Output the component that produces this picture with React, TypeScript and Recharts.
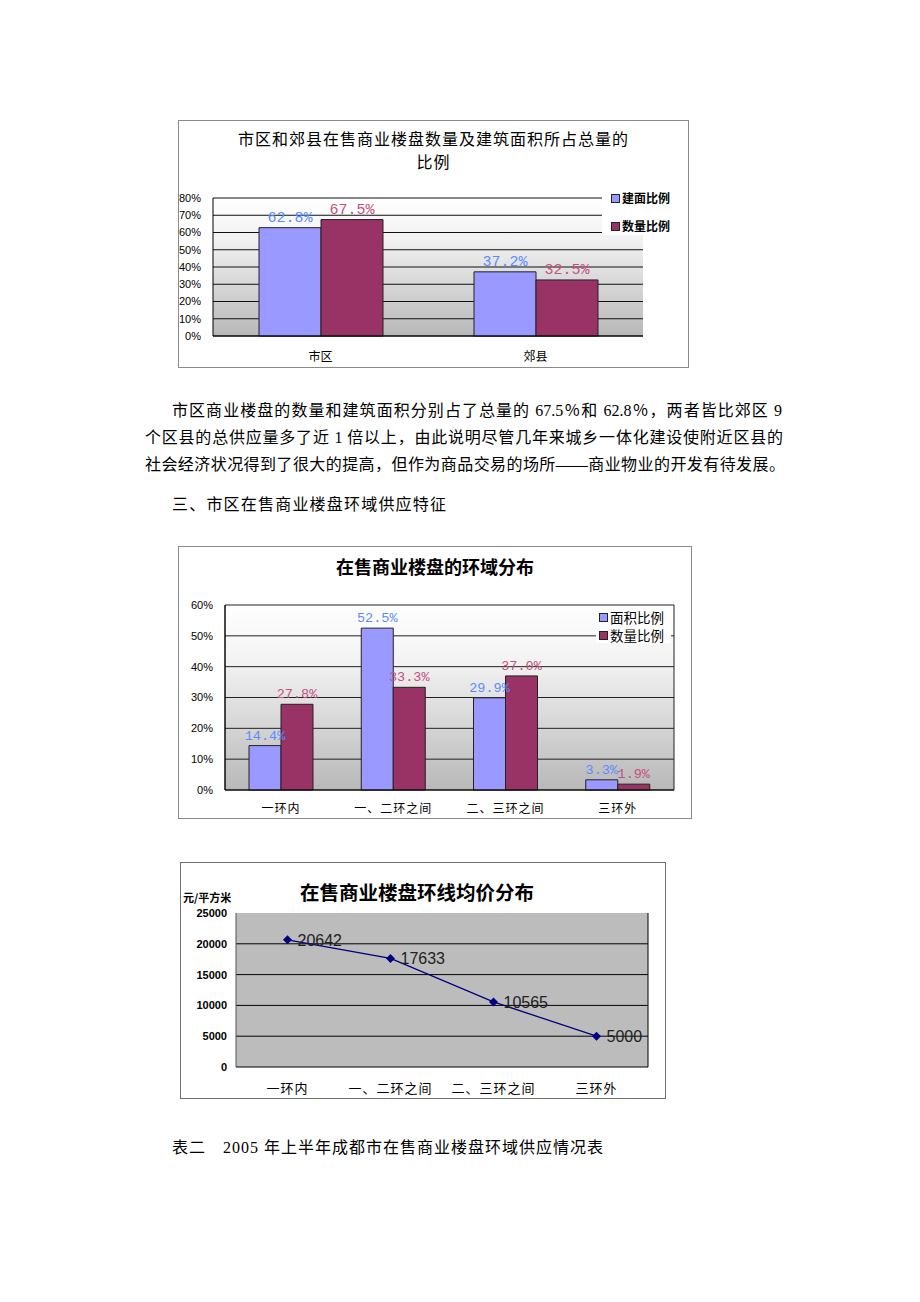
import React from 'react';
import {
  BarChart, Bar, XAxis, YAxis, CartesianGrid, LabelList, Legend, ComposedChart, Line,
} from 'recharts';

// ---- Chart 1 data ----
const c1Categories = ['市区', '郊县'];
const c1Area = [62.8, 37.2];
const c1Count = [67.5, 32.5];
const c1Ticks = [0, 10, 20, 30, 40, 50, 60, 70, 80];
const c1Series = ['建面比例', '数量比例'];

// ---- Chart 2 data ----
const c2Categories = ['一环内', '一、二环之间', '二、三环之间', '三环外'];
const c2Area = [14.4, 52.5, 29.9, 3.3];
const c2Count = [27.8, 33.3, 37.0, 1.9];
const c2Ticks = [0, 10, 20, 30, 40, 50, 60];
const c2Series = ['面积比例', '数量比例'];

// ---- Chart 3 data ----
const c3Categories = ['一环内', '一、二环之间', '二、三环之间', '三环外'];
const c3Price = [20642, 17633, 10565, 5000];
const c3Ticks = [0, 5000, 10000, 15000, 20000, 25000];
const c3GridValues = [5000, 10000, 15000, 20000];

const BLUE = '#9999ff';
const RED = '#993366';
const BLUE_LABEL = '#5b8cff';
const RED_LABEL = '#c4507f';

const c1Data = c1Categories.map((name, i) => ({ name, area: c1Area[i], count: c1Count[i] }));
const c2Data = c2Categories.map((name, i) => ({ name, area: c2Area[i], count: c2Count[i] }));
const c3Data = c3Categories.map((name, i) => ({ name, price: c3Price[i] }));

const CJK = "'Noto Sans CJK SC', 'Liberation Sans', sans-serif";
const DOC = "'Liberation Serif', 'Noto Sans CJK SC', serif";
const MONO = "'Liberation Mono', 'DejaVu Sans Mono', monospace";

const pct = (v: any) => `${Number(v).toFixed(1)}%`;

function makeLegend(names: string[], opts: { fontSize: number; iconLeft: number; textLeft: number; rows: number[]; weight: number }) {
  const colors = [BLUE, RED];
  return () => (
    <div style={{ position: 'relative', width: '100%', height: '100%', background: '#fff', fontFamily: CJK }}>
      {names.map((n, i) => (
        <div key={n} style={{ position: 'absolute', left: 0, top: opts.rows[i] - 10, height: 20, width: '100%' }}>
          <span style={{ position: 'absolute', left: opts.iconLeft, top: 6, width: 7, height: 7, background: colors[i], border: '1px solid #222' }} />
          <span style={{ position: 'absolute', left: opts.textLeft, top: 0, lineHeight: '20px', fontSize: opts.fontSize, fontWeight: opts.weight, color: '#000', whiteSpace: 'nowrap' }}>{n}</span>
        </div>
      ))}
    </div>
  );
}

function Chart1() {
  const W = 509, H = 246;
  const titleStyle: React.CSSProperties = { position: 'absolute', left: 0, width: '100%', textAlign: 'center', fontFamily: CJK, fontSize: 16, letterSpacing: 1, lineHeight: '22px', color: '#000' };
  return (
    <div style={{ position: 'absolute', left: 178, top: 120, width: 511, height: 248, border: '1px solid #8a8a8a', boxSizing: 'border-box', background: '#fff' }}>
      <div style={{ ...titleStyle, top: 6 }}>市区和郊县在售商业楼盘数量及建筑面积所占总量的</div>
      <div style={{ ...titleStyle, top: 29 }}>比例</div>
      <BarChart width={W} height={H} data={c1Data} margin={{ top: 77, right: 45, bottom: 0, left: 0 }} barGap={0} barSize={62}>
        <defs>
          <linearGradient id="g1" x1="0" y1="0" x2="0" y2="1">
            <stop offset="0%" stopColor="#ffffff" />
            <stop offset="30%" stopColor="#f2f2f2" />
            <stop offset="100%" stopColor="#b8b8b8" />
          </linearGradient>
        </defs>
        <CartesianGrid fill="url(#g1)" vertical={false} stroke="#111" strokeWidth={1} />
        <XAxis dataKey="name" height={31} axisLine={{ stroke: '#000' }} tickLine={false} tickSize={0} tickMargin={16}
          tick={{ fontSize: 12, fill: '#000', fontFamily: CJK }} />
        <YAxis width={34} domain={[0, 80]} ticks={c1Ticks} interval={0} tickFormatter={(v) => `${v}%`}
          axisLine={{ stroke: '#000' }} tickLine={false} tickSize={0} tickMargin={12}
          tick={{ fontSize: 11, fill: '#000', fontFamily: "'Liberation Sans', sans-serif" }} />
        <Legend layout="vertical" align="center" verticalAlign="middle"
          wrapperStyle={{ left: 423, top: 66, width: 86, height: 48 }}
          content={makeLegend(c1Series, { fontSize: 12, iconLeft: 9, textLeft: 20, rows: [11, 39], weight: 700 })} />
        <Bar dataKey="area" name={c1Series[0]} fill={BLUE} stroke="#222" strokeWidth={1} isAnimationActive={false}>
          <LabelList dataKey="area" position="top" offset={6} formatter={pct} fill={BLUE_LABEL} fontSize={15} fontFamily={MONO} />
        </Bar>
        <Bar dataKey="count" name={c1Series[1]} fill={RED} stroke="#222" strokeWidth={1} isAnimationActive={false}>
          <LabelList dataKey="count" position="top" offset={6} formatter={pct} fill={RED_LABEL} fontSize={15} fontFamily={MONO} />
        </Bar>
      </BarChart>
    </div>
  );
}

function Chart2() {
  const W = 512, H = 271;
  return (
    <div style={{ position: 'absolute', left: 178, top: 546, width: 514, height: 273, border: '1px solid #8a8a8a', boxSizing: 'border-box', background: '#fff' }}>
      <div style={{ position: 'absolute', left: 0, top: 7, width: '100%', textAlign: 'center', fontFamily: CJK, fontSize: 18, fontWeight: 700, lineHeight: '24px', color: '#000' }}>
        在售商业楼盘的环域分布
      </div>
      <BarChart width={W} height={H} data={c2Data} margin={{ top: 58, right: 17, bottom: 0, left: 0 }} barGap={0} barSize={32}>
        <defs>
          <linearGradient id="g2" x1="0" y1="0" x2="0" y2="1">
            <stop offset="0%" stopColor="#ffffff" />
            <stop offset="30%" stopColor="#f3f3f3" />
            <stop offset="100%" stopColor="#b8b8b8" />
          </linearGradient>
        </defs>
        <CartesianGrid fill="url(#g2)" stroke="#222" strokeWidth={1}
          verticalCoordinatesGenerator={(p: any) => [p.offset.left, p.offset.left + p.offset.width]} />
        <XAxis dataKey="name" height={28} axisLine={{ stroke: '#000' }} tickLine={false} tickSize={0} tickMargin={14}
          tick={{ fontSize: 12, fill: '#000', fontFamily: CJK, letterSpacing: 1 }} />
        <YAxis width={46} domain={[0, 60]} ticks={c2Ticks} interval={0} tickFormatter={(v) => `${v}%`}
          axisLine={{ stroke: '#000' }} tickLine={false} tickSize={0} tickMargin={12}
          tick={{ fontSize: 11, fill: '#000', fontFamily: "'Liberation Sans', sans-serif" }} />
        <Legend layout="vertical" align="center" verticalAlign="middle"
          wrapperStyle={{ left: 417, top: 61, width: 75, height: 35 }}
          content={makeLegend(c2Series, { fontSize: 13.5, iconLeft: 3, textLeft: 14, rows: [8.5, 27], weight: 400 })} />
        <Bar dataKey="area" name={c2Series[0]} fill={BLUE} stroke="#222" strokeWidth={1} isAnimationActive={false}>
          <LabelList dataKey="area" position="top" offset={6} formatter={pct} fill={BLUE_LABEL} fontSize={13.5} fontFamily={MONO} />
        </Bar>
        <Bar dataKey="count" name={c2Series[1]} fill={RED} stroke="#222" strokeWidth={1} isAnimationActive={false}>
          <LabelList dataKey="count" position="top" offset={6} formatter={pct} fill={RED_LABEL} fontSize={13.5} fontFamily={MONO} />
        </Bar>
      </BarChart>
    </div>
  );
}

function Diamond(props: any) {
  const { cx, cy, index } = props;
  if (cx == null || cy == null) return <g key={index} />;
  const r = 4.5;
  return <path key={index} d={`M${cx},${cy - r}L${cx + r},${cy}L${cx},${cy + r}L${cx - r},${cy}Z`} fill="#000080" />;
}

function Chart3() {
  const W = 484, H = 235;
  return (
    <div style={{ position: 'absolute', left: 180, top: 862, width: 486, height: 237, border: '1px solid #707070', boxSizing: 'border-box', background: '#fff' }}>
      <div style={{ position: 'absolute', left: 0, top: 16, width: 472, textAlign: 'center', fontFamily: CJK, fontSize: 19.5, fontWeight: 700, lineHeight: '26px', color: '#000' }}>
        在售商业楼盘环线均价分布
      </div>
      <div style={{ position: 'absolute', left: 2, top: 26, fontFamily: CJK, fontSize: 11, fontWeight: 700, lineHeight: '16px', color: '#000' }}>
        元/平方米
      </div>
      <ComposedChart width={W} height={H} data={c3Data} margin={{ top: 50, right: 17, bottom: 0, left: 0 }}>
        <CartesianGrid fill="#bcbcbc" stroke="#000" strokeWidth={1}
          horizontalValues={c3GridValues}
          verticalCoordinatesGenerator={(p: any) => [p.offset.left + p.offset.width]} />
        <XAxis dataKey="name" scale="band" height={31} axisLine={{ stroke: '#000' }} tickLine={false} tickSize={0} tickMargin={17}
          tick={{ fontSize: 13, fill: '#000', fontFamily: CJK, letterSpacing: 1 }} />
        <YAxis width={55} domain={[0, 25000]} ticks={c3Ticks} interval={0}
          axisLine={{ stroke: '#555' }} tickLine={false} tickSize={0} tickMargin={9}
          tick={{ fontSize: 11, fill: '#000', fontWeight: 700, fontFamily: "'Liberation Sans', sans-serif" }} />
        <Line dataKey="price" stroke="#000080" strokeWidth={1.3} dot={Diamond} activeDot={false} isAnimationActive={false}>
          <LabelList dataKey="price" position="right" offset={10} fill="#222" fontSize={16} fontFamily="'Liberation Sans', sans-serif" />
        </Line>
      </ComposedChart>
    </div>
  );
}

const textLine: React.CSSProperties = {
  position: 'absolute', fontFamily: DOC, fontSize: 16, lineHeight: '20px', color: '#000', whiteSpace: 'nowrap',
};

export default function App() {
  return (
    <div style={{ position: 'absolute', left: 0, top: 0, width: 920, height: 1302, background: '#fff', overflow: 'hidden' }}>
      <Chart1 />
      <div style={{ ...textLine, left: 172, top: 401, width: 610, textAlign: 'justify', textAlignLast: 'justify' }}>
        市区商业楼盘的数量和建筑面积分别占了总量的 67.5％和 62.8％，两者皆比郊区 9
      </div>
      <div style={{ ...textLine, left: 145, top: 428, width: 638, textAlign: 'justify', textAlignLast: 'justify' }}>
        个区县的总供应量多了近 1 倍以上，由此说明尽管几年来城乡一体化建设使附近区县的
      </div>
      <div style={{ ...textLine, left: 145, top: 455, width: 640, textAlign: 'justify', textAlignLast: 'justify' }}>
        社会经济状况得到了很大的提高，但作为商品交易的场所——商业物业的开发有待发展。
      </div>
      <div style={{ ...textLine, left: 172, top: 495, letterSpacing: 1.2 }}>
        三、市区在售商业楼盘环域供应特征
      </div>
      <Chart2 />
      <Chart3 />
      <div style={{ ...textLine, left: 172, top: 1138, letterSpacing: 1 }}>
        表二　2005 年上半年成都市在售商业楼盘环域供应情况表
      </div>
    </div>
  );
}
